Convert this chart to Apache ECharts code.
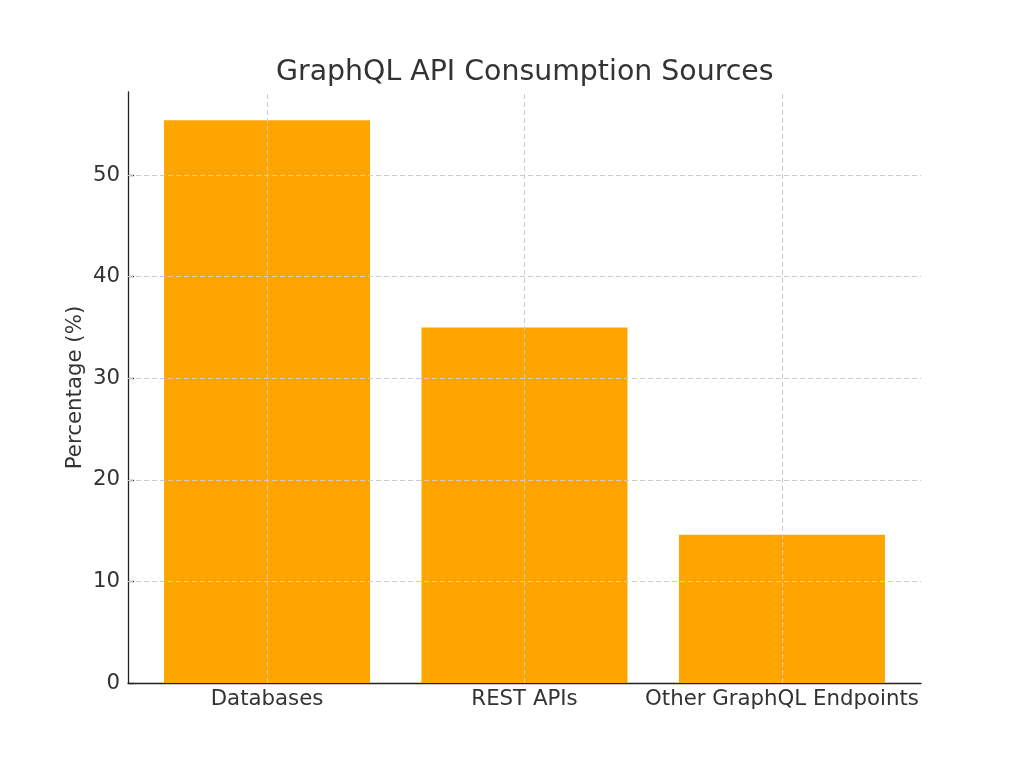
<!DOCTYPE html>
<html lang="en">
<head>
    <meta charset="UTF-8">
    <title>GraphQL API Consumption Sources</title>
    <script src="https://cdn.jsdelivr.net/npm/echarts@6/dist/echarts.min.js"></script>
    <style>
        html, body { margin: 0; padding: 0; background: #fff; }
        #chart_div { width: 1024px; height: 768px; }
    </style>
</head>
<body>
<div id="chart_div"></div>
<script type="text/javascript">
    // data
    var categories = ['Databases', 'REST APIs', 'Other GraphQL Endpoints'];
    var percentValues = [55.4, 35.0, 14.6];
    var yTicks = [0, 10, 20, 30, 40, 50];
    var xTicks = [0, 1, 2];

    var textColor = '#333333';
    var gridColor = '#cccccc';
    var fontName = 'DejaVu Sans';

    var barData = [];
    for (var i = 0; i < categories.length; i++) {
        barData.push([i, percentValues[i]]);
    }

    // grid lines are drawn over the bars, like the original
    var gridLines = [];
    for (var j = 1; j < yTicks.length; j++) {
        gridLines.push({ yAxis: yTicks[j] });
    }
    for (var k = 0; k < xTicks.length; k++) {
        gridLines.push({ xAxis: xTicks[k] });
    }

    var myChart = echarts.init(document.getElementById('chart_div'));

    var option = {
        backgroundColor: '#ffffff',
        animation: false,
        title: {
            text: 'GraphQL API Consumption Sources',
            left: 271,
            top: 54,
            textStyle: {
                fontFamily: fontName,
                fontSize: 28.4,
                fontWeight: 'normal',
                color: textColor
            }
        },
        grid: {
            left: 128,
            right: 103,
            top: 92,
            bottom: 85,
            containLabel: false
        },
        xAxis: {
            type: 'value',
            min: -0.54,
            max: 2.54,
            axisLine: { show: true, lineStyle: { color: '#222222', width: 1.3 } },
            axisTick: {
                show: true,
                inside: true,
                length: 6,
                customValues: xTicks,
                lineStyle: { color: '#222222', width: 1.3 }
            },
            axisLabel: {
                customValues: xTicks,
                margin: 6,
                fontFamily: fontName,
                fontSize: 21.3,
                color: textColor,
                formatter: function (v) {
                    return categories[Math.round(v)];
                }
            },
            splitLine: { show: false }
        },
        yAxis: {
            type: 'value',
            min: 0,
            max: 58.17,
            name: 'Percentage (%)',
            nameLocation: 'middle',
            nameRotate: 90,
            nameGap: 42,
            nameMoveOverlap: false,
            nameTextStyle: {
                fontFamily: fontName,
                fontSize: 21.3,
                color: textColor
            },
            axisLine: { show: true, onZero: false, lineStyle: { color: '#222222', width: 1.3 } },
            axisTick: {
                show: true,
                inside: true,
                length: 6,
                customValues: yTicks,
                lineStyle: { color: '#222222', width: 1.3 }
            },
            axisLabel: {
                customValues: yTicks,
                margin: 8,
                fontFamily: fontName,
                fontSize: 21.3,
                color: textColor
            },
            splitLine: { show: false }
        },
        series: [{
            type: 'bar',
            data: barData,
            barWidth: 206,
            itemStyle: { color: '#ffa500' },
            markLine: {
                silent: true,
                symbol: 'none',
                label: { show: false },
                lineStyle: { color: gridColor, type: [5, 3], width: 1 },
                data: gridLines
            }
        }]
    };

    myChart.setOption(option);
</script>
</body>
</html>
